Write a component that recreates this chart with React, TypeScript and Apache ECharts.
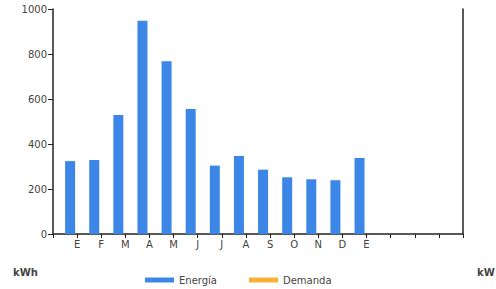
import React, { useEffect, useRef } from "react";
import * as echarts from "echarts";

const monthLabels = ["E", "F", "M", "A", "M", "J", "J", "A", "S", "O", "N", "D", "E"];
const energia = [324, 329, 529, 948, 768, 556, 304, 347, 286, 252, 243, 239, 338];
const demanda: (number | null)[] = [null, null, null, null, null, null, null, null, null, null, null, null, null];
const leadingSlots = 1;
const trailingSlots = 4;
const yTicks = { min: 0, max: 1000, interval: 200 };
const leftUnit = "kWh";
const rightUnit = "kW";

export default function App() {
  const ref = useRef<HTMLDivElement>(null);
  useEffect(() => {
    if (!ref.current) return;
    const chart = echarts.init(ref.current, null, { renderer: "svg" });
    const total = leadingSlots + monthLabels.length + trailingSlots;
    const cats = Array.from({ length: total }, (_, i) => "c" + i);
    const labels = cats.map((_, i) => {
      const m = i - leadingSlots;
      return m >= 0 && m < monthLabels.length ? monthLabels[m] : "";
    });
    const pad = (arr: (number | null)[]) =>
      cats.map((_, i) => {
        const m = i - leadingSlots;
        return m >= 0 && m < arr.length ? arr[m] : null;
      });
    const font = "DejaVu Sans";
    chart.setOption({
      animation: false,
      textStyle: { fontFamily: font },
      grid: { left: 53, right: 33, top: 9, bottom: 55, containLabel: false },
      legend: {
        left: 140,
        top: 270,
        itemWidth: 29,
        itemHeight: 5,
        itemGap: 32,
        icon: "rect",
        textStyle: { fontFamily: font, fontSize: 10, color: "#444" },
        data: ["Energía", "Demanda"],
      },
      xAxis: {
        type: "category",
        data: cats,
        boundaryGap: false,
        axisLine: { show: true, lineStyle: { color: "#222", width: 1.5 } },
        axisTick: { show: true, length: 4, interval: 0, lineStyle: { color: "#222" } },
        axisLabel: {
          interval: 0,
          margin: 5,
          fontSize: 10,
          color: "#444",
          fontFamily: font,
          formatter: (_v: string, i: number) => labels[i],
        },
        splitLine: { show: false },
      },
      yAxis: [
        {
          type: "value",
          min: yTicks.min,
          max: yTicks.max,
          interval: yTicks.interval,
          axisLine: { show: true, lineStyle: { color: "#222", width: 1.5 } },
          axisTick: { show: true, length: 5, lineStyle: { color: "#222" } },
          axisLabel: {
            margin: 6,
            fontSize: 10,
            color: "#444",
            fontFamily: font,
            formatter: (v: number) => String(v),
          },
          splitLine: { show: false },
        },
        {
          type: "value",
          position: "right",
          min: 0,
          max: 1,
          axisLine: { show: true, lineStyle: { color: "#222", width: 1.5 } },
          axisTick: { show: false },
          axisLabel: { show: false },
          splitLine: { show: false },
        },
      ],
      series: [
        {
          name: "Energía",
          type: "bar",
          data: pad(energia),
          barWidth: 10,
          barGap: "40%",
          itemStyle: { color: "#3b86e6" },
        },
        {
          name: "Demanda",
          type: "bar",
          data: pad(demanda),
          barWidth: 10,
          itemStyle: { color: "#f6b234" },
        },
      ],
      graphic: [
        {
          type: "text",
          left: 13,
          top: 267,
          style: { text: leftUnit, fontFamily: font, fontSize: 10, fontWeight: "bold", fill: "#444" },
        },
        {
          type: "text",
          left: 477,
          top: 267,
          style: { text: rightUnit, fontFamily: font, fontSize: 10, fontWeight: "bold", fill: "#444" },
        },
      ],
    });
    return () => chart.dispose();
  }, []);
  return (
    <div
      ref={ref}
      style={{ position: "fixed", left: 0, top: 0, width: 496, height: 289, background: "#fff" }}
    />
  );
}
